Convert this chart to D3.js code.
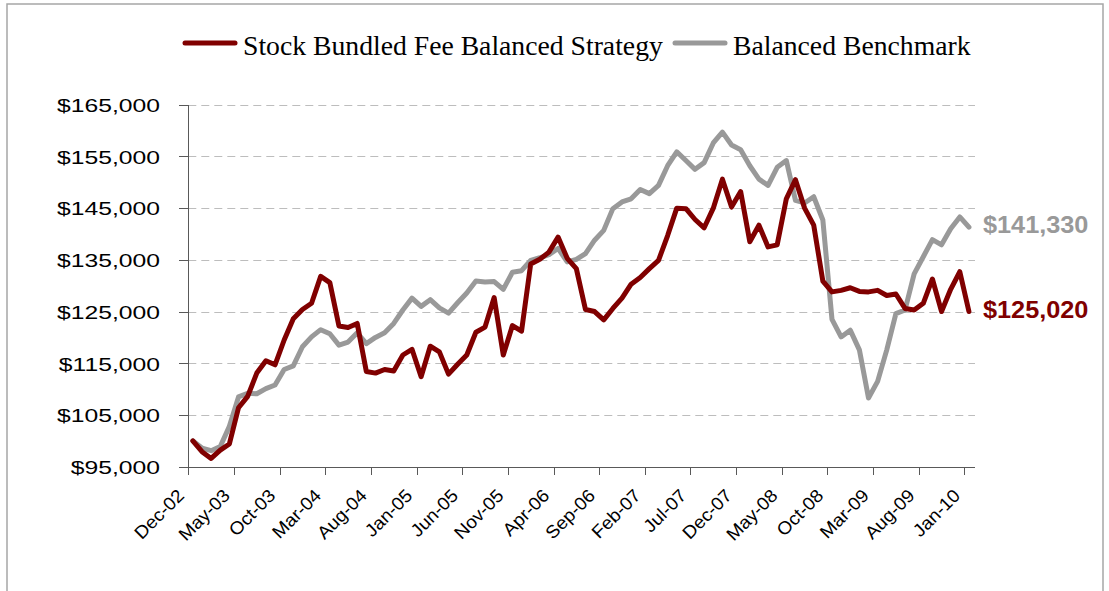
<!DOCTYPE html>
<html>
<head>
<meta charset="utf-8">
<script src="https://cdn.jsdelivr.net/npm/d3@7"></script>
<style>
  body { margin: 0; background: #fff; }
  svg { display: block; }
  .axis path, .axis line { stroke: #595959; shape-rendering: crispEdges; }
  .axis text { font-family: "Liberation Sans", Arial, sans-serif; font-size: 19px; fill: #000; }
</style>
</head>
<body>
<div id="chart"></div>
<script>
var width = 1109,
    height = 591;

// one point per month, Dec-02 .. Jan-10
var months = d3.timeMonth.range(new Date(2002, 11, 1), new Date(2010, 1, 1));

var strategy = [
  100000, 97900, 96600, 98200, 99400, 106400, 108600, 113100, 115500, 114700,
  119500, 123600, 125400, 126600, 131800, 130600, 122200, 121900, 122700, 113400,
  113100, 113800, 113500, 116600, 117700, 112400, 118300, 117200, 112900, 114800,
  116600, 121000, 122000, 127700, 116600, 122300, 121200, 134200, 135100, 136500,
  139400, 135300, 133300, 125400, 125000, 123400, 125600, 127600, 130300, 131600,
  133300, 134900, 139700, 145000, 144900, 142800, 141200, 145000, 150600, 145200,
  148200, 138500, 141700, 137500, 137900, 146800, 150500, 145000, 141700, 130900,
  128800, 129100, 129600, 128900, 128800, 129100, 128100, 128400, 125600, 125300,
  126600, 131300, 125000, 129300, 132700, 125020
];

var benchmark = [
  100000, 98600, 98100, 98900, 102800, 108500, 109200, 109100, 110100, 110800,
  113800, 114500, 118200, 120100, 121500, 120700, 118500, 119100, 120900, 118800,
  120000, 120900, 122700, 125300, 127600, 126000, 127300, 125700, 124700, 126700,
  128600, 130900, 130700, 130800, 129300, 132600, 132900, 134900, 135400, 136000,
  137200, 134600, 135100, 136200, 138800, 140700, 144900, 146200, 146800, 148600,
  147800, 149400, 153200, 155900, 154200, 152500, 153800, 157600, 159700, 157200,
  156300, 153200, 150600, 149400, 152900, 154200, 146500, 146000, 147200, 142700,
  123500, 120100, 121400, 117600, 108300, 111500, 117600, 124600, 125300, 132300,
  135600, 138900, 137900, 141000, 143300, 141330
];

var tickLabels = ["Dec-02", "May-03", "Oct-03", "Mar-04", "Aug-04", "Jan-05",
  "Jun-05", "Nov-05", "Apr-06", "Sep-06", "Feb-07", "Jul-07", "Dec-07",
  "May-08", "Oct-08", "Mar-09", "Aug-09", "Jan-10"];

var yTicks = [95000, 105000, 115000, 125000, 135000, 145000, 155000, 165000];

var seriesNames = ["Stock Bundled Fee Balanced Strategy", "Balanced Benchmark"];
var seriesColors = ["#800000", "#999999"];

var svg = d3.select("#chart").append("svg")
    .attr("width", width)
    .attr("height", height);

// outer frame, cut off at the bottom like the picture
svg.append("rect")
    .attr("x", 7).attr("y", 4)
    .attr("width", 1096).attr("height", 620)
    .attr("fill", "none")
    .attr("stroke", "#a6a6a6")
    .attr("stroke-width", 1.5);

var x = d3.scaleLinear()
    .domain([0, months.length])
    .range([188.3, 973.5]);

var y = d3.scaleLinear()
    .domain([95000, 165000])
    .range([466.7, 104.7]);

// gridlines
svg.append("g").selectAll("line")
    .data(yTicks.slice(1))
  .enter().append("line")
    .attr("x1", 188.3).attr("x2", 975)
    .attr("y1", function(d) { return Math.round(y(d)) + 0.5; })
    .attr("y2", function(d) { return Math.round(y(d)) + 0.5; })
    .attr("stroke", "#bdbdbd")
    .attr("stroke-dasharray", "8,5");

// y axis
var yAxis = svg.append("g")
    .attr("class", "axis")
    .attr("transform", "translate(188.3,0)")
    .call(d3.axisLeft(y).tickValues(yTicks).tickSize(9).tickSizeOuter(0)
      .tickFormat(d3.format("$,")));

yAxis.selectAll("text")
    .attr("x", -21.8)
    .attr("dy", "0.36em")
    .attr("transform", "scale(1.3,1)");

// x axis
var xAxis = svg.append("g")
    .attr("class", "axis")
    .attr("transform", "translate(0,466.7)")
    .call(d3.axisBottom(x).tickValues(d3.range(0, months.length, 5)).tickSize(8).tickSizeOuter(0)
      .tickFormat(function(d, i) { return tickLabels[i]; }));

xAxis.select(".domain").attr("d", "M188.3,0.5H975");

xAxis.selectAll("text")
    .attr("x", 0).attr("y", 0).attr("dy", 0)
    .attr("text-anchor", "end")
    .style("font-size", "18px")
    .attr("transform", "translate(-3.5,30) rotate(-45) scale(1.06,1)");

// lines
var line = d3.line()
    .x(function(d, i) { return x(i + 0.5); })
    .y(function(d) { return y(d); });

[benchmark, strategy].forEach(function(s) {
  svg.append("path")
      .datum(s)
      .attr("d", line)
      .attr("fill", "none")
      .attr("stroke", s === strategy ? seriesColors[0] : seriesColors[1])
      .attr("stroke-width", 5)
      .attr("stroke-linejoin", "round")
      .attr("stroke-linecap", "round");
});

// end value labels
var fmt = d3.format("$,");
[[benchmark, seriesColors[1], 233.3], [strategy, seriesColors[0], 318.3]].forEach(function(e) {
  svg.append("text")
      .attr("transform", "translate(983," + e[2] + ") scale(1.1,1)")
      .attr("font-family", "Liberation Sans, Arial, sans-serif")
      .attr("font-size", 23)
      .attr("font-weight", "bold")
      .attr("fill", e[1])
      .text(fmt(e[0][e[0].length - 1]));
});

// legend
var legendX = [183, 673];
var legend = svg.append("g").selectAll("g")
    .data(seriesNames)
  .enter().append("g")
    .attr("transform", function(d, i) { return "translate(" + legendX[i] + ",0)"; });

legend.append("line")
    .attr("x1", 2).attr("x2", 52)
    .attr("y1", 43).attr("y2", 43)
    .attr("stroke", function(d, i) { return seriesColors[i]; })
    .attr("stroke-width", 5)
    .attr("stroke-linecap", "round");

legend.append("text")
    .attr("x", 60).attr("y", 55)
    .attr("font-family", "Liberation Serif, Times New Roman, serif")
    .attr("font-size", 27.7)
    .attr("fill", "#000")
    .text(function(d) { return d; });
</script>
</body>
</html>
